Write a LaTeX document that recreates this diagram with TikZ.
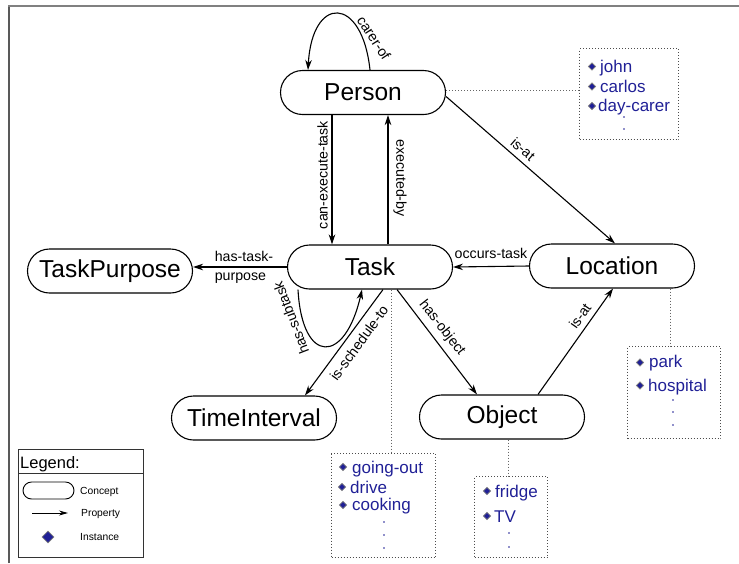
\documentclass[tikz,border=0pt]{standalone}
\usepackage{fontspec}
\setmainfont{Liberation Sans}
\usetikzlibrary{arrows.meta,shapes.geometric}
\definecolor{instblue}{RGB}{32,32,150}
\begin{document}
\begin{tikzpicture}[x=1pt,y=-1pt,
  concept/.style={draw, rounded corners=22pt, minimum width=165pt, minimum height=44pt, line width=1.1pt, font=\fontsize{24.5}{29}\selectfont, inner sep=0pt},
  prop/.style={-{Stealth[length=10pt,width=6.5pt]}, line width=1.1pt},
  elabel/.style={font=\fontsize{14.2}{17}\selectfont, inner sep=1pt},
  instbox/.style={draw=black!70, dotted, line width=1pt, inner sep=0pt, anchor=north west},
  link/.style={draw=black!60, dotted, line width=1pt},
  bul/.style={diamond, draw=gray, fill=instblue, inner sep=0pt, minimum size=7.5pt, line width=0.6pt},
  inst/.style={text=instblue, font=\fontsize{17}{20}\selectfont, anchor=base west, inner sep=0pt},
  idot/.style={circle, fill=instblue, inner sep=0pt, minimum size=1.6pt},
  lgtext/.style={anchor=base west, font=\fontsize{10.3}{12}\selectfont, inner sep=0pt}]
\useasboundingbox (0,0) rectangle (739,563);
% frame
\draw[black!65, line width=2.5pt] (9,563) -- (9,5);
\draw[black!50, line width=2pt] (8,6) -- (739,6);

% concepts
\node[concept] (person) at (363,92.5) {Person};
\node[concept] (task) at (370,267) {Task};
\node[concept] (purpose) at (110,271) {TaskPurpose};
\node[concept] (location) at (612,266) {Location};
\node[concept] (time) at (254,418) {TimeInterval};
\node[concept] (object) at (502,417) {Object};

% properties
\draw[prop] ([xshift=7pt]person.north) .. controls (362,-5) and (312,-5) .. ([xshift=-55pt]person.north);
\node[elabel, rotate=-57] (lcarer) at (374,38) {carer-of};

\draw[prop] ([xshift=-31pt]person.south) -- ([xshift=-38pt]task.north);
\node[elabel, rotate=90] (lcan) at (322.5,175) {can-execute-task};

\draw[prop] ([xshift=18pt]task.north) -- ([xshift=25pt]person.south);
\node[elabel, rotate=-90] (lexec) at (400,178) {executed-by};

\draw[prop] ([yshift=-4pt]person.east) -- ([xshift=3pt]location.north);
\node[elabel, rotate=-41] (lisat1) at (523,149) {is-at};

\draw[prop] (location.west) -- (task.east);
\node[elabel] (loccurs) at (491,253) {occurs-task};

\draw[prop] (task.west) -- (task.west -| purpose.east);
\node[elabel, align=left, font=\fontsize{14.2}{19}\selectfont] (lpurpose) at (244,267) {has-task-\\purpose};

\draw[prop] ([xshift=-72pt]task.south) .. controls (302,365) and (345,365) .. ([xshift=-8pt]task.south);
\node[elabel, rotate=111] (lsub) at (291,318) {has-subtask};

\draw[prop] ([xshift=13pt]task.south) -- ([xshift=51pt]time.north);
\node[elabel, rotate=54] (lsched) at (359,343) {is-schedule-to};

\draw[prop] ([xshift=27pt]task.south) -- ([xshift=-25pt]object.north);
\node[elabel, rotate=-52] (lobj) at (442,328) {has-object};

\draw[prop] ([xshift=36pt]object.north) -- ([xshift=1pt]location.south);
\node[elabel, rotate=55] (lisat2) at (580,316) {is-at};

% instance boxes
\node[instbox, minimum width=99pt, minimum height=91pt] (pinst) at (579,48) {};
\node[instbox, minimum width=93pt, minimum height=92pt] (linst) at (627,346) {};
\node[instbox, minimum width=104pt, minimum height=104pt] (tinst) at (331,453) {};
\node[instbox, minimum width=73pt, minimum height=81pt] (oinst) at (474,476) {};

% links
\draw[link] ([yshift=2pt]person.east) -- ([yshift=2pt]person.east -| pinst.west);
\coordinate (lc) at ([xshift=58pt]location.south);
\draw[link] (lc) -- (lc |- linst.north);
\coordinate (tc) at ([xshift=21pt]task.south);
\draw[link] (tc) -- (tc |- tinst.north);
\coordinate (oc) at ([xshift=6pt]object.south);
\draw[link] (oc) -- (oc |- oinst.north);

% person instances
\node[bul] (pb1) at (592,66.5) {};
\node[bul] (pb2) at (592,86.5) {};
\node[bul] (pb3) at (592,106) {};
\node[inst] (pi1) at (600,72) {john};
\node[inst] (pi2) at (600,92) {carlos};
\node[inst] (pi3) at (598,111) {day-carer};
\node[idot] (pd1) at (624,117) {};
\node[idot] (pd2) at (624,129) {};

% location instances
\node[bul] (lb1) at (640,362.5) {};
\node[bul] (lb2) at (640,385.5) {};
\node[inst] (li1) at (649,367) {park};
\node[inst] (li2) at (648,391) {hospital};
\node[idot] (ld1) at (673,400) {};
\node[idot] (ld2) at (673,412) {};
\node[idot] (ld3) at (673,425) {};

% task instances
\node[bul] (tb1) at (343,467) {};
\node[bul] (tb2) at (342,487) {};
\node[bul] (tb3) at (343,505) {};
\node[inst] (ti1) at (352,473) {going-out};
\node[inst] (ti2) at (350,493) {drive};
\node[inst] (ti3) at (352,510) {cooking};
\node[idot] (td1) at (384,522) {};
\node[idot] (td2) at (384,535) {};
\node[idot] (td3) at (384,548) {};

% object instances
\node[bul] (ob1) at (487,491) {};
\node[bul] (ob2) at (487,516) {};
\node[inst] (oi1) at (495,497) {fridge};
\node[inst] (oi2) at (494,522) {TV};
\node[idot] (od1) at (509,533) {};
\node[idot] (od2) at (509,547) {};

% legend
\node[draw=black!80, line width=1pt, minimum width=125pt, minimum height=108pt, anchor=north west, inner sep=0pt] (legend) at (18,449) {};
\coordinate (lgsep) at (0,473);
\draw[black!80, line width=0.8pt] (legend.west |- lgsep) -- (legend.east |- lgsep);
\node[anchor=base west, font=\fontsize{16.5}{20}\selectfont, inner sep=0pt] (lgtitle) at (20,468) {Legend:};
\node[draw, rounded corners=8.5pt, minimum width=51pt, minimum height=17pt, line width=0.9pt] (lgconcept) at (48.5,490.5) {};
\node[lgtext] (lgt1) at (80,494) {Concept};
\coordinate (lga) at (32,513);
\coordinate (lgb) at (68,513);
\draw[-{Stealth[length=9pt,width=5pt]}, line width=0.9pt] (lga) -- (lgb);
\node[lgtext] (lgt2) at (81,516) {Property};
\node[diamond, draw=gray, fill=instblue, minimum size=12pt, inner sep=0pt, line width=0.7pt] (lgdia) at (48,537) {};
\node[lgtext] (lgt3) at (80,540) {Instance};
\end{tikzpicture}
\end{document}
